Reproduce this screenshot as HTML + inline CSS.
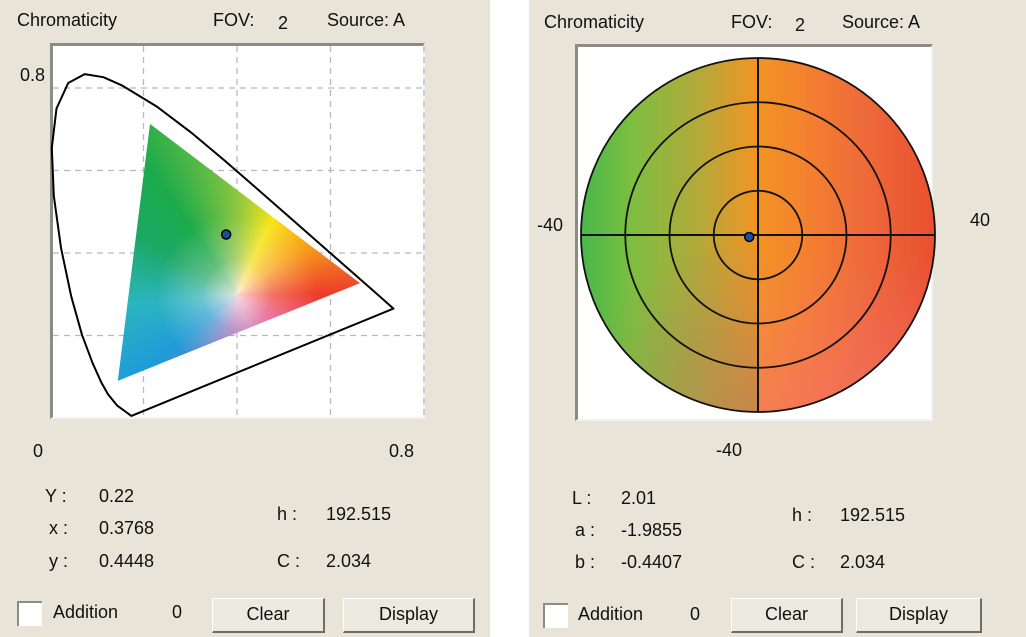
<!DOCTYPE html>
<html><head><meta charset="utf-8"><style>
body{margin:0;width:1026px;height:637px;background:#fff;overflow:hidden;font-family:"Liberation Sans",sans-serif;color:#111}
.panel{position:absolute;top:0;height:637px;background:#E8E4D8}
.t{position:absolute;font-size:18px;white-space:nowrap;line-height:1}
.box{position:absolute;background:#fff;border-top:3px solid #8d8b84;border-left:3px solid #8d8b84;border-right:2px solid #f4f2ec;border-bottom:2px solid #f4f2ec;box-sizing:border-box}
.btn{position:absolute;background:#ECE9DE;border:1px solid #fff;border-right:2px solid #6e6c66;border-bottom:2px solid #6e6c66;box-sizing:border-box;font-size:18px;text-align:center;line-height:31px}
.cb{position:absolute;width:25px;height:25px;background:#fff;border-top:2px solid #8d8b84;border-left:2px solid #8d8b84;box-sizing:border-box}
</style></head><body>
<div class="panel" style="left:0;width:490px"></div>
<div class="panel" style="left:529px;width:497px"></div>

<div class="t" style="left:17px;top:11px">Chromaticity</div>
<div class="t" style="left:213px;top:11px">FOV:</div>
<div class="t" style="left:278px;top:14px">2</div>
<div class="t" style="left:327px;top:11px">Source: A</div>
<div class="box" style="left:50px;top:43px;width:375px;height:376px"></div>
<svg id="xygrid" width="1026" height="637" style="position:absolute;left:0;top:0"></svg>
<div id="tri" style="position:absolute;left:0;top:0;width:1026px;height:637px"></div>
<svg id="xy" width="1026" height="637" style="position:absolute;left:0;top:0"></svg>
<div class="t" style="left:20px;top:66px">0.8</div>
<div class="t" style="left:33px;top:442px">0</div>
<div class="t" style="left:389px;top:442px">0.8</div>
<div class="t" style="left:45px;top:487px">Y :</div>
<div class="t" style="left:99px;top:487px">0.22</div>
<div class="t" style="left:49px;top:519px">x :</div>
<div class="t" style="left:99px;top:519px">0.3768</div>
<div class="t" style="left:49px;top:552px">y :</div>
<div class="t" style="left:99px;top:552px">0.4448</div>
<div class="t" style="left:277px;top:505px">h :</div>
<div class="t" style="left:326px;top:505px">192.515</div>
<div class="t" style="left:277px;top:552px">C :</div>
<div class="t" style="left:326px;top:552px">2.034</div>
<div class="cb" style="left:17px;top:601px"></div>
<div class="t" style="left:53px;top:603px">Addition</div>
<div class="t" style="left:172px;top:603px">0</div>
<div class="btn" style="left:212px;top:598px;width:113px;height:35px">Clear</div>
<div class="btn" style="left:343px;top:598px;width:132px;height:35px">Display</div>

<div class="t" style="left:544px;top:13px">Chromaticity</div>
<div class="t" style="left:731px;top:13px">FOV:</div>
<div class="t" style="left:795px;top:16px">2</div>
<div class="t" style="left:842px;top:13px">Source: A</div>
<div class="box" style="left:575px;top:44px;width:358px;height:377px"></div>
<div style="position:absolute;left:581px;top:58px;width:354px;height:354px;border-radius:50%;overflow:hidden;background:linear-gradient(to right,#48B84A 0%,#7FBE40 15%,#B2A93A 33%,#F29423 50%,#F4832E 62%,#EE6A3A 80%,#E8502F 100%)">
<div style="position:absolute;left:0;top:0;width:100%;height:100%;background:linear-gradient(to bottom,rgba(0,0,0,0) 55%,rgba(245,110,120,0.55) 100%);clip-path:inset(0 0 0 50%)"></div>
<div style="position:absolute;left:0;top:0;width:100%;height:100%;background:radial-gradient(circle at 50% 100%,rgba(170,125,100,0.6) 0%,rgba(170,125,100,0) 45%);clip-path:inset(0 50% 0 0)"></div>
</div>
<svg id="lab" width="1026" height="637" style="position:absolute;left:0;top:0"></svg>
<div class="t" style="left:537px;top:216px">-40</div>
<div class="t" style="left:970px;top:211px">40</div>
<div class="t" style="left:716px;top:441px">-40</div>
<div class="t" style="left:572px;top:489px">L :</div>
<div class="t" style="left:621px;top:489px">2.01</div>
<div class="t" style="left:575px;top:521px">a :</div>
<div class="t" style="left:621px;top:521px">-1.9855</div>
<div class="t" style="left:575px;top:553px">b :</div>
<div class="t" style="left:621px;top:553px">-0.4407</div>
<div class="t" style="left:792px;top:506px">h :</div>
<div class="t" style="left:840px;top:506px">192.515</div>
<div class="t" style="left:792px;top:553px">C :</div>
<div class="t" style="left:840px;top:553px">2.034</div>
<div class="cb" style="left:543px;top:603px"></div>
<div class="t" style="left:578px;top:605px">Addition</div>
<div class="t" style="left:690px;top:605px">0</div>
<div class="btn" style="left:731px;top:598px;width:112px;height:35px">Clear</div>
<div class="btn" style="left:856px;top:598px;width:126px;height:35px">Display</div>

<script>
// ---- xy chromaticity data ----
const locusX=[0.1741,0.1440,0.1241,0.1096,0.0913,0.0687,0.0454,0.0235,0.0082,0.0039,0.0139,0.0389,0.0743,0.1142,0.1547,0.2296,0.3016,0.3731,0.4441,0.5125,0.5752,0.6270,0.6915,0.7347];
const locusY=[0.0050,0.0297,0.0578,0.0868,0.1327,0.2007,0.2950,0.4127,0.5384,0.6548,0.7502,0.8120,0.8338,0.8262,0.8059,0.7543,0.6923,0.6245,0.5547,0.4866,0.4242,0.3725,0.3083,0.2653];
const gamutX=[0.214,0.663,0.145];
const gamutY=[0.713,0.327,0.090];
const whiteX=[0.40];
const whiteY=[0.30];
const sampleX=[0.3768];
const sampleY=[0.4448];
const gridTicks=[0.2,0.4,0.6,0.8];
// ---- Lab data ----
const ringValues=[10,20,30,40];
const sampleA=[-1.9855];
const sampleB=[-0.4407];

const NS="http://www.w3.org/2000/svg";
function mk(svg,tag,attrs){const e=document.createElementNS(NS,tag);for(const k in attrs)e.setAttribute(k,attrs[k]);svg.appendChild(e);return e;}
const sx=v=>50+v*467.5, sy=v=>418-v*412.5;
const grid=document.getElementById('xygrid');
gridTicks.forEach(t=>{
  const gv=mk(grid,'line',{x1:sx(t),x2:sx(t),y1:46,y2:417,stroke:'#b8b8c4','stroke-width':1.3,'stroke-dasharray':'6,5'});
  
  
  const gh=mk(grid,'line',{x1:53,x2:423,y1:sy(t),y2:sy(t),stroke:'#b8b8c4','stroke-width':1.3,'stroke-dasharray':'6,5'});
  
  
});
// gamut triangle as conic gradient clipped to polygon
const P=gamutX.map((x,i)=>[sx(x),sy(gamutY[i])]);
const tri=document.getElementById('tri');
const wx=sx(whiteX[0]), wy=sy(whiteY[0]);
tri.style.clipPath='polygon('+P.map(p=>p[0].toFixed(1)+'px '+p[1].toFixed(1)+'px').join(',')+')';
tri.style.background=
 'radial-gradient(circle at '+wx+'px '+wy+'px, rgba(255,240,235,0.85) 0px, rgba(255,240,235,0.3) 35px, rgba(255,255,255,0) 80px),'+
 'conic-gradient(from 0deg at '+wx+'px '+wy+'px, #8CC63F 0deg, #F7E51A 25deg, #F7A21B 55deg, #EE3B2A 90deg, #E9447A 120deg, #C66BB0 160deg, #9B6FC0 190deg, #1E9BD8 230deg, #2BB5C0 265deg, #1DA866 300deg, #1BAA4C 325deg, #8CC63F 360deg)';
const xy=document.getElementById('xy');
// spectral locus
const d=locusX.map((x,i)=>(i?'L':'M')+sx(x).toFixed(1)+','+sy(locusY[i]).toFixed(1)).join(' ')+'Z';
const loc=mk(xy,'path',{d:d,fill:'none',stroke:'#000','stroke-width':2,'stroke-linejoin':'round'});


sampleX.forEach((x,i)=>{
  const c=mk(xy,'circle',{cx:sx(x),cy:sy(sampleY[i]),r:4.5,fill:'#1a4f9a',stroke:'#000','stroke-width':1.5});
  
  
});

// Lab chart
const lab=document.getElementById('lab');
const cx=758,cy=235,k=177/40;
const la=v=>cx+v*k, lb=v=>cy-v*k;
ringValues.forEach(r=>{
  const c=mk(lab,'circle',{cx:cx,cy:cy,r:r*k,fill:'none',stroke:'#111','stroke-width':1.8});
  
  
});
const hl=mk(lab,'line',{x1:la(-40),x2:la(40),y1:cy,y2:cy,stroke:'#111','stroke-width':2});


const vl=mk(lab,'line',{x1:cx,x2:cx,y1:lb(40),y2:lb(-40),stroke:'#111','stroke-width':2});


sampleA.forEach((a,i)=>{
  const c=mk(lab,'circle',{cx:la(a),cy:lb(sampleB[i]),r:4.5,fill:'#1a4f9a',stroke:'#000','stroke-width':1.5});
  
  
});
</script>
</body></html>
